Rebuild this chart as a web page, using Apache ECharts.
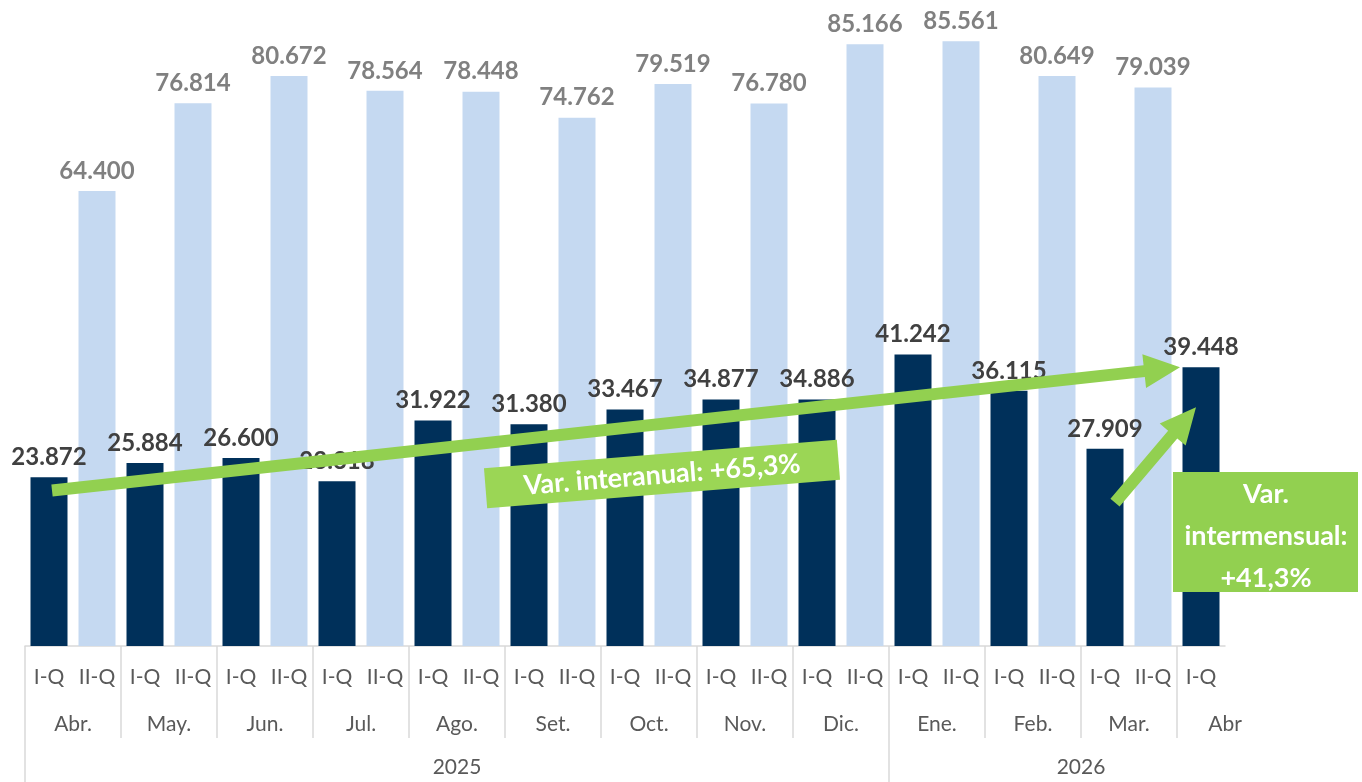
<!DOCTYPE html>
<html>
<head>
<meta charset="utf-8">
<script src="https://cdn.jsdelivr.net/npm/echarts@6/dist/echarts.min.js"></script>
<style>
  html, body { margin: 0; padding: 0; background: #fff; }
  #chart { width: 1362px; height: 782px; }
</style>
</head>
<body>
<div id="chart"></div>
<script>
// datos
const quincenas = ["I-Q", "II-Q"];
const meses = ["Abr.", "May.", "Jun.", "Jul.", "Ago.", "Set.", "Oct.", "Nov.", "Dic.", "Ene.", "Feb.", "Mar.", "Abr"];
const anios = ["2025", "2026"];
const mesesPorAnio = [9, 4];
const primeraQ = [23872, 25884, 26600, 23318, 31922, 31380, 33467, 34877, 34886, 41242, 36115, 27909, 39448];
const segundaQ = [64400, 76814, 80672, 78564, 78448, 74762, 79519, 76780, 85166, 85561, 80649, 79039];

const categorias = [];
const serieI = [];
const serieII = [];
meses.forEach((m, i) => {
  categorias.push(quincenas[0]);
  serieI.push(primeraQ[i]);
  serieII.push("-");
  if (i < segundaQ.length) {
    categorias.push(quincenas[1]);
    serieI.push("-");
    serieII.push(segundaQ[i]);
  }
});

const fmt = (v) => String(v).replace(/\B(?=(\d{3})+(?!\d))/g, ".");

// posiciones de etiquetas de mes / año (en unidades de categoría)
const mesLabelPos = meses.map((m, i) => i * 2 + 1);
const mesTickPos = [];
const anioTickPos = [0];
const anioLabelPos = [];
let acc = 0;
mesesPorAnio.forEach((n) => {
  anioLabelPos.push(acc + n);
  acc += n * 2;
  anioTickPos.push(acc);
});
anioTickPos.pop();
for (let k = 2; k < meses.length * 2; k += 2) {
  if (anioTickPos.indexOf(k) < 0) mesTickPos.push(k);
}
const maxPos = meses.length * 2 - 1;

const FONT = "Lato, 'Open Sans', sans-serif";
const GREEN = "#92d050";

const chart = echarts.init(document.getElementById("chart"));

const option = {
  animation: false,
  textStyle: { fontFamily: FONT },
  grid: { left: 25, right: 137, top: 10, bottom: 136 },
  xAxis: [
    {
      type: "category",
      data: categorias,
      axisLine: { lineStyle: { color: "#d9d9d9", width: 1.5 } },
      axisTick: { show: false },
      axisLabel: { interval: 0, fontSize: 21, color: "#595959", margin: 21, fontFamily: FONT },
    },
    {
      type: "value",
      min: 0,
      max: maxPos,
      position: "bottom",
      axisLine: { show: false },
      splitLine: { show: false },
      axisTick: { show: true, customValues: mesTickPos, length: 92, lineStyle: { color: "#d9d9d9", width: 1.5 } },
      axisLabel: {
        customValues: mesLabelPos,
        formatter: (v) => meses[Math.round((v - 1) / 2)],
        fontSize: 21,
        color: "#595959",
        margin: 68,
        fontFamily: FONT,
      },
    },
    {
      type: "value",
      min: 0,
      max: maxPos,
      position: "bottom",
      axisLine: { show: false },
      splitLine: { show: false },
      axisTick: { show: true, customValues: anioTickPos, length: 136, lineStyle: { color: "#d9d9d9", width: 1.5 } },
      axisLabel: {
        customValues: anioLabelPos,
        formatter: (v) => anios[anioLabelPos.indexOf(v)],
        fontSize: 21,
        color: "#595959",
        margin: 111,
        fontFamily: FONT,
      },
    },
  ],
  yAxis: { type: "value", min: 0, max: 90000, show: false, splitLine: { show: false } },
  series: [
    {
      name: "I-Q",
      type: "bar",
      data: serieI,
      barWidth: 37,
      barGap: "-100%",
      itemStyle: { color: "#00305a" },
      label: {
        show: true,
        position: "top",
        distance: 8,
        formatter: (p) => fmt(p.value),
        fontSize: 24,
        fontWeight: "bold",
        color: "#404040",
        fontFamily: FONT,
      },
    },
    {
      name: "II-Q",
      type: "bar",
      data: serieII,
      barWidth: 37,
      barGap: "-100%",
      itemStyle: { color: "#c5d9f1" },
      label: {
        show: true,
        position: "top",
        distance: 8,
        formatter: (p) => fmt(p.value),
        fontSize: 24,
        fontWeight: "bold",
        color: "#808080",
        fontFamily: FONT,
      },
    },
  ],
};

chart.setOption(option);

// flechas y cuadros de anotación
function arrow(tail, tip, half, headLen, headHalf) {
  const dx = tip[0] - tail[0];
  const dy = tip[1] - tail[1];
  const len = Math.sqrt(dx * dx + dy * dy);
  const ux = dx / len, uy = dy / len;
  const nx = -uy, ny = ux;
  const bx = tip[0] - ux * headLen, by = tip[1] - uy * headLen;
  return {
    type: "polygon",
    z: 120,
    shape: {
      points: [
        [tail[0] + nx * half, tail[1] + ny * half],
        [bx + nx * half, by + ny * half],
        [bx + nx * headHalf, by + ny * headHalf],
        tip,
        [bx - nx * headHalf, by - ny * headHalf],
        [bx - nx * half, by - ny * half],
        [tail[0] - nx * half, tail[1] - ny * half],
      ],
    },
    style: { fill: GREEN },
  };
}

const px = (i, v) => chart.convertToPixel({ xAxisIndex: 0, yAxisIndex: 0 }, [i, v]);
const last = categorias.length - 1;

const t1 = px(0, 22000); t1[0] += 3;
const h1 = px(last, primeraQ[primeraQ.length - 1]); h1[0] -= 21;
const t2 = px(last - 2, 20300); t2[0] += 10;
const h2 = px(last, 33800); h2[0] -= 5;

chart.setOption({
  graphic: [
    {
      type: "group",
      x: 662,
      y: 474,
      rotation: (4.6 * Math.PI) / 180,
      z: 100,
      children: [
        { type: "rect", z: 100, shape: { x: -177, y: -20, width: 354, height: 40 }, style: { fill: "#9bd655" } },
        {
          type: "text",
          z: 101,
          style: {
            text: "Var. interanual: +65,3%",
            x: 0,
            y: 1,
            align: "center",
            verticalAlign: "middle",
            fill: "#fff",
            font: "bold 27px " + FONT,
          },
        },
      ],
    },
    arrow(t1, h1, 6, 36, 17),
    arrow(t2, h2, 6, 36, 17),
    {
      type: "group",
      z: 100,
      children: [
        { type: "rect", z: 100, shape: { x: 1173, y: 472, width: 185, height: 120 }, style: { fill: GREEN } },
        {
          type: "text",
          z: 101,
          style: {
            text: "Var.\nintermensual:\n+41,3%",
            x: 1266,
            y: 536,
            align: "center",
            verticalAlign: "middle",
            lineHeight: 42,
            fill: "#fff",
            font: "bold 27px " + FONT,
          },
        },
      ],
    },
  ],
});
</script>
</body>
</html>
